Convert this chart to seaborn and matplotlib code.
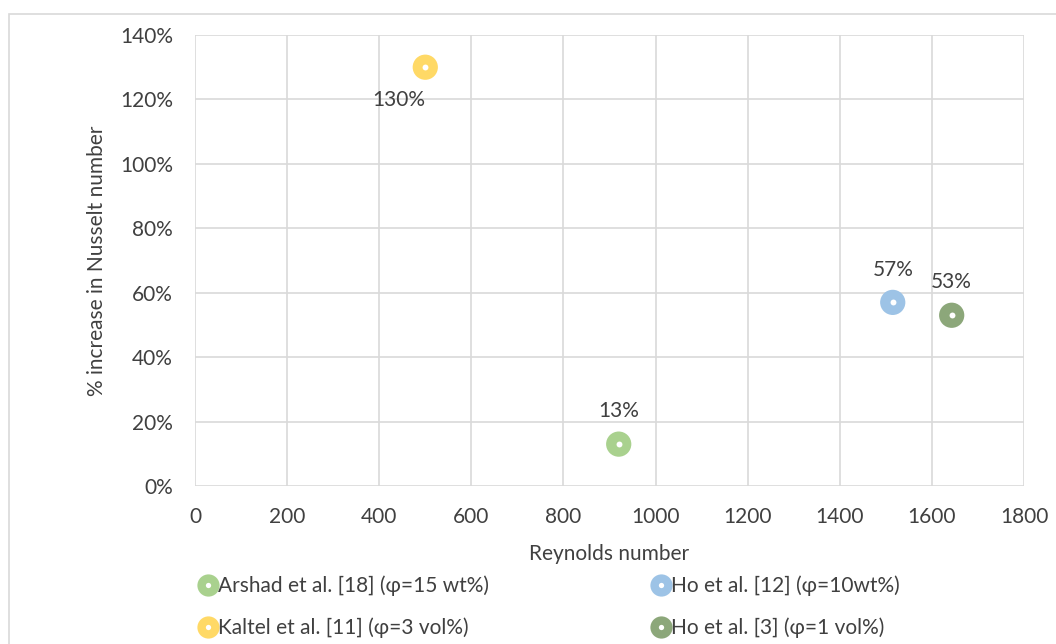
import matplotlib
matplotlib.use("Agg")
import matplotlib.pyplot as plt
from matplotlib.patches import Rectangle
from matplotlib.lines import Line2D
from matplotlib.ticker import FuncFormatter
import seaborn as sns
import pandas as pd

studies = ["Arshad et al. [18] (φ=15 wt%)", "Ho et al. [12] (φ=10wt%)",
           "Kaltel et al. [11] (φ=3 vol%)", "Ho et al. [3] (φ=1 vol%)"]
reynolds = [920, 1515, 500, 1643]
nusselt_increase = [13, 57, 130, 53]
label_text = ["13%", "57%", "130%", "53%"]
colors = ["#A9D18E", "#9DC3E6", "#FFD966", "#8CA77A"]

df = pd.DataFrame({"study": studies, "Re": reynolds, "Nu": nusselt_increase})

sns.set_theme(style="white")
plt.rcParams["font.family"] = ["Lato", "DejaVu Sans"]
text_color = "#404040"
fs = 15

fig = plt.figure(figsize=(10.56, 6.44), dpi=100)
ax = fig.add_axes([195 / 1056, 1 - 486 / 644, (1024 - 195) / 1056, (486 - 35) / 644])

palette = dict(zip(studies, colors))
# filled discs with a small white centre dot
sns.scatterplot(data=df, x="Re", y="Nu", hue="study", palette=palette, ax=ax,
                s=330, marker="o", linewidth=0, legend=False, zorder=3)
sns.scatterplot(data=df, x="Re", y="Nu", color="white", ax=ax,
                s=18, marker="o", linewidth=0, legend=False, zorder=4)

for x, y, t in zip(reynolds, nusselt_increase, label_text):
    if y > 100:
        ax.text(x - 58, y - 10.2, t, ha="center", va="center", fontsize=fs, color=text_color)
    else:
        ax.text(x, y + 10.2, t, ha="center", va="center", fontsize=fs, color=text_color)

ax.set_xlim(0, 1800)
ax.set_ylim(0, 140)
ax.set_xticks(range(0, 1801, 200))
ax.set_yticks(range(0, 141, 20))
ax.yaxis.set_major_formatter(FuncFormatter(lambda v, p: f"{int(v)}%"))
ax.grid(True, color="#D9D9D9", linewidth=1.2)
ax.set_axisbelow(True)
for sp in ax.spines.values():
    sp.set_visible(False)
ax.tick_params(axis="both", length=0, labelsize=fs, colors=text_color)
ax.tick_params(axis="y", pad=16)
ax.tick_params(axis="x", pad=15)
ax.set_xlabel("Reynolds number", fontsize=fs, color=text_color, labelpad=12)
ax.set_ylabel("% increase in Nusselt number", fontsize=fs, color=text_color, labelpad=9)

handles = [Line2D([], [], marker="o", linestyle="none", markersize=16,
                  markerfacecolor=c, markeredgewidth=0) for c in colors]
dots = [Line2D([], [], marker="o", linestyle="none", markersize=3.8,
               markerfacecolor="white", markeredgewidth=0) for _ in colors]
order = [0, 2, 1, 3]
fig.legend([(handles[i], dots[i]) for i in order], [studies[i] for i in order],
           loc="upper left", bbox_to_anchor=(189 / 1056, 1 - 565 / 644), ncol=2,
           frameon=False, fontsize=fs, labelcolor=text_color, handlelength=0.8,
           handletextpad=0.1, columnspacing=7.85, labelspacing=1.05, borderpad=0)

fig.patches.append(Rectangle((9 / 1056, -0.1), 1.2, 1.1 - 14 / 644,
                             transform=fig.transFigure, fill=False,
                             edgecolor="#D9D9D9", linewidth=1.2, clip_on=False))

fig.savefig("out.png", dpi=100)
